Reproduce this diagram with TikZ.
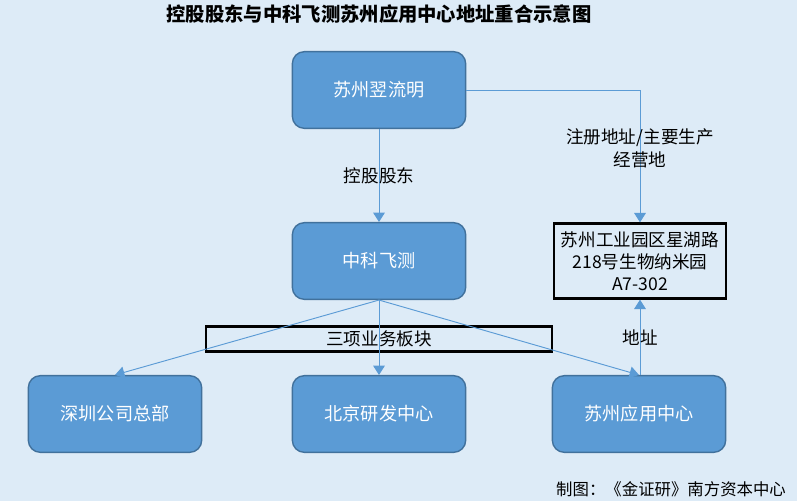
\documentclass[tikz,border=0pt]{standalone}
\usepackage{fontspec}
\setmainfont{Noto Sans CJK SC}
\usetikzlibrary{arrows.meta,positioning}
\definecolor{bgblue}{HTML}{DDEBF7}
\definecolor{boxblue}{HTML}{5B9BD5}
\definecolor{edgeblue}{HTML}{41719C}

\begin{document}
\begin{tikzpicture}[x=0.03cm,y=-0.03cm,
  main node/.style={rectangle,rounded corners=0.36cm,fill=boxblue,draw=edgeblue,line width=1.2pt,
    minimum width=5.2cm,minimum height=2.3cm,text=white,font=\fontsize{15.5}{18}\selectfont},
  addr node/.style={rectangle,draw=black,line width=2pt,minimum width=5.15cm,minimum height=2.25cm,
    align=center,font=\fontsize{15}{19}\selectfont,inner sep=1pt},
  rec node/.style={rectangle,draw=black,line width=1.8pt,minimum width=10.4cm,minimum height=0.75cm,
    font=\fontsize{15}{18}\selectfont,inner sep=0pt},
  lbl/.style={text=black,font=\fontsize{15}{19}\selectfont,align=center},
  link/.style={color=boxblue,line width=0.8pt,-{Triangle[width=10pt,length=8pt]}}]

  \fill[bgblue] (0,0) rectangle (797,501);
  \useasboundingbox (0,0) rectangle (797,501);

  \node[font=\bfseries\fontsize{16.5}{20}\selectfont] (title) at (379,14) {控股股东与中科飞测苏州应用中心地址重合示意图};

  \node[main node] (1) at (379,90) {苏州翌流明};
  \node[main node] (2) at (379,261) {中科飞测};
  \node[addr node] (3) at (640,261) {苏州工业园区星湖路\\218号生物纳米园\\A7-302};
  \node[rec node] (4) at (379,339) {三项业务板块};
  \node[main node] (5) at (115,414) {深圳公司总部};
  \node[main node] (6) at (379,414) {北京研发中心};
  \node[main node] (7) at (639,414) {苏州应用中心};

  \node[font=\fontsize{14}{17}\selectfont,anchor=east] (credit) at (790,489) {制图：《金证研》南方资本中心};

  \path[link,every node/.style={lbl}]
    (1) edge node {控股股东} (2)
    (2.south) edge (5.north)
    (2.south) edge (6.north)
    (2.south) edge (7.north)
    (7.north -| 3.south) edge node {地址} (3.south)
    ;

  \draw[link] (1.east) -| node[lbl,pos=0.72] {注册地址/主要生产\\经营地} (3.north);

\end{tikzpicture}
\end{document}
